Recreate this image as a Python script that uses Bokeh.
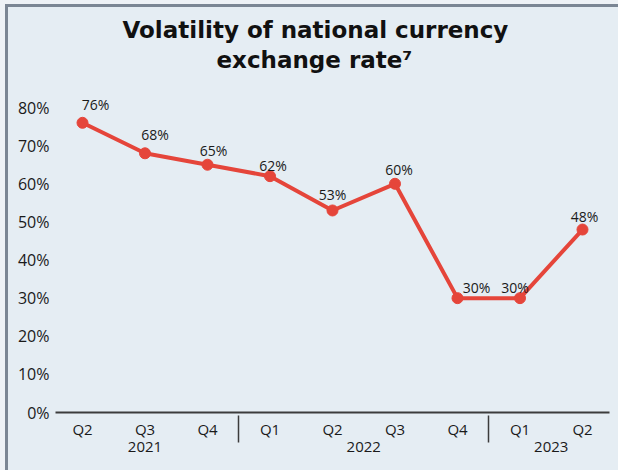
from bokeh.plotting import figure
from bokeh.models import FactorRange, Range1d, ColumnDataSource, FixedTicker, PrintfTickFormatter, Title
from bokeh.embed import file_html
from bokeh.resources import INLINE

years = ["2021", "2021", "2021", "2022", "2022", "2022", "2022", "2023", "2023"]
quarters = ["Q2", "Q3", "Q4", "Q1", "Q2", "Q3", "Q4", "Q1", "Q2"]
volatility = [76, 68, 65, 62, 53, 60, 30, 30, 48]
y_ticks = [0, 10, 20, 30, 40, 50, 60, 70, 80]
title_line1 = "Volatility of national currency"
title_line2 = "exchange rate\u2077"

# label placement (pixels) relative to each point
label_dx = [13, 10, 6, 3, 0, 4, 19, -5, 2]
label_dy = [-18, -19, -14, -11, -16, -14, -11, -11, -13]

BG = "#e5edf3"
RED = "#e5453a"
FONT = "Open Sans"

factors = list(zip(years, quarters))
src = ColumnDataSource(dict(
    x=factors, y=volatility,
    label=[f"{v}%" for v in volatility],
    dx=label_dx, dy=label_dy,
))

p = figure(
    width=618, height=470,
    x_range=FactorRange(*factors, factor_padding=0, group_padding=0, range_padding=-0.0151),
    y_range=Range1d(0, 85),
    output_backend="svg", toolbar_location=None,
    min_border_left=55, min_border_right=9, min_border_top=88, min_border_bottom=58,
    background_fill_color=BG, border_fill_color=None, outline_line_color=None,
)
p.styles = {
    "background-color": BG,
    "box-shadow": "inset 5px 4px 0 0 #eef2f6, inset 8px 7px 0 0 #7b8694",
}

p.title = Title(text=title_line1, align="left", offset=67, text_font="DejaVu Sans",
                text_font_style="bold", text_font_size="23px", text_color="#111111",
                standoff=-27)
p.add_layout(Title(text=title_line2, align="left", offset=161, text_font="DejaVu Sans",
                   text_font_style="bold", text_font_size="23px", text_color="#111111",
                   standoff=31), "above")

p.line("x", "y", source=src, line_color=RED, line_width=4)
p.scatter("x", "y", source=src, size=11, fill_color=RED, line_color=RED)
p.text("x", "y", text="label", source=src, x_offset="dx", y_offset="dy",
       text_align="center", text_baseline="alphabetic",
       text_font_size="14px", text_color="#1a1a1a", text_font={"value": FONT})

p.xgrid.visible = False
p.ygrid.visible = False

xa = p.xaxis[0]
xa.axis_line_color = "#3c3c3c"
xa.axis_line_width = 2
xa.major_tick_line_color = None
xa.major_label_text_font = FONT
xa.major_label_text_font_size = "15px"
xa.major_label_text_color = "#1a1a1a"
xa.major_label_standoff = 0
xa.group_text_font = FONT
xa.group_text_font_size = "15px"
xa.group_text_font_style = "normal"
xa.group_text_color = "#1a1a1a"
xa.separator_line_color = "#3c3c3c"
xa.separator_line_width = 1.5

ya = p.yaxis[0]
ya.ticker = FixedTicker(ticks=y_ticks)
ya.formatter = PrintfTickFormatter(format="%d%%")
ya.axis_line_color = None
ya.major_tick_line_color = None
ya.minor_tick_line_color = None
ya.major_label_text_font = FONT
ya.major_label_text_font_size = "16px"
ya.major_label_text_color = "#1a1a1a"
ya.major_label_standoff = 0

open("out.html", "w").write(file_html(p, INLINE))
